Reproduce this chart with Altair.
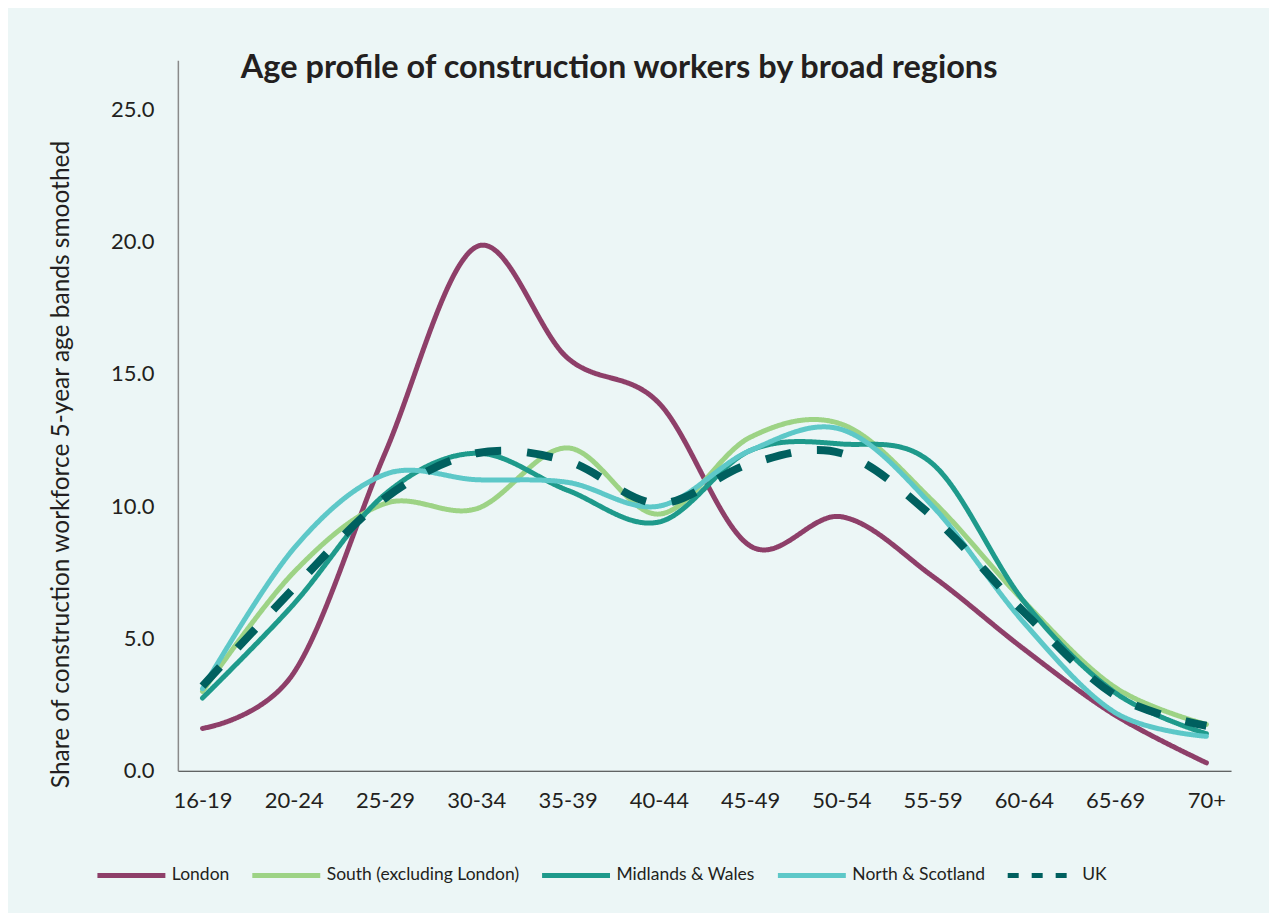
import altair as alt
import pandas as pd

ages = ["16-19", "20-24", "25-29", "30-34", "35-39", "40-44",
        "45-49", "50-54", "55-59", "60-64", "65-69", "70+"]
series_names = ["London", "South (excluding London)", "Midlands & Wales",
                "North & Scotland", "UK"]
series_colors = ["#8E3F69", "#9DD385", "#1E9A8B", "#5DC8C8", "#00605F"]

london = [1.6, 3.7, 12.0, 19.8, 15.6, 13.9, 8.5, 9.6, 7.35, 4.6, 2.1, 0.3]
south = [3.0, 7.5, 10.1, 9.9, 12.2, 9.7, 12.6, 13.1, 10.2, 6.4, 3.15, 1.75]
midlands = [2.75, 6.3, 10.45, 12.0, 10.6, 9.4, 12.1, 12.35, 11.6, 6.4, 2.95, 1.4]
north = [3.1, 8.4, 11.2, 11.0, 10.9, 10.0, 12.1, 12.9, 10.0, 5.6, 2.2, 1.3]
uk = [3.2, 6.9, 10.3, 12.0, 11.7, 10.1, 11.6, 12.0, 9.6, 6.0, 2.85, 1.7]

y_ticks = [0, 5, 10, 15, 20, 25]

rows = []
for s_idx, (name, vals) in enumerate(zip(series_names, [london, south, midlands, north, uk])):
    for i, (a, v) in enumerate(zip(ages, vals)):
        rows.append({"age": a, "series": name, "value": v, "sidx": s_idx, "i": i})
df = pd.DataFrame(rows)

FONT = "Lato"
TEXT = "#231F20"

x_enc = alt.X("age:N", sort=ages,
              scale=alt.Scale(type="point", padding=0.27),
              axis=alt.Axis(title=None, labelAngle=0, ticks=False, labelFontSize=22,
                            labelFont=FONT, labelColor=TEXT, labelPadding=20,
                            domainColor="#333333", domainWidth=1.2))
y_enc = alt.Y("value:Q",
              scale=alt.Scale(domain=[0, 26.85], nice=False, zero=True),
              axis=alt.Axis(values=y_ticks, format=".1f", grid=False, ticks=False,
                            labelFontSize=22, labelFont=FONT, labelColor=TEXT,
                            labelPadding=24, domainColor="#8A8A8A", domainWidth=1.5,
                            title="Share of construction workforce 5-year age bands smoothed",
                            titleFont=FONT, titleFontSize=24.5, titleFontWeight="normal",
                            titleColor=TEXT, titleX=-116, titleY=404,
                            titleAlign="center", titleBaseline="middle"))

legend_args = dict(
    title=None, orient="none", direction="horizontal", columns=5,
    legendX=-83, legendY=779,
    symbolType="stroke", symbolSize=4624, symbolStrokeWidth=5,
    labelFont=FONT, labelFontSize=17.5, labelColor=TEXT, labelLimit=400,
    labelOffset=4, columnPadding=12)

base = alt.Chart(df)

regions = base.transform_filter(alt.datum.series != "UK").mark_line(
    interpolate="cardinal", strokeWidth=5, strokeCap="round"
).encode(
    x=x_enc,
    y=y_enc,
    color=alt.Color("series:N", sort=series_names,
                    scale=alt.Scale(domain=series_names, range=series_colors),
                    legend=alt.Legend(**legend_args)),
    strokeDash=alt.StrokeDash("series:N", sort=series_names,
                              scale=alt.Scale(domain=series_names,
                                              range=[[1, 0], [1, 0], [1, 0], [1, 0], [11, 13]]),
                              legend=alt.Legend(**legend_args)),
    order=alt.Order("i:Q"),
    detail="sidx:Q",
)

uk_line = base.transform_filter(alt.datum.series == "UK").mark_line(
    interpolate="cardinal", strokeWidth=8, strokeDash=[26, 26], strokeCap="butt",
    color="#00605F"
).encode(
    x=x_enc,
    y=y_enc,
    order=alt.Order("i:Q"),
)

chart = alt.layer(regions, uk_line).properties(
    width=1054,
    height=711,
    title=alt.TitleParams(
        text="Age profile of construction workers by broad regions",
        anchor="start", frame="group", fontSize=32.5, fontWeight="bold",
        font=FONT, color=TEXT, dx=63, dy=50, offset=0, baseline="alphabetic"),
    autosize=alt.AutoSizeParams(type="none"),
    padding={"left": 170, "top": 52, "right": 38, "bottom": 142},
    background="#ECF6F6",
).configure_view(stroke=None)

chart.save("out.html", embed_options={"renderer": "svg", "actions": False})
